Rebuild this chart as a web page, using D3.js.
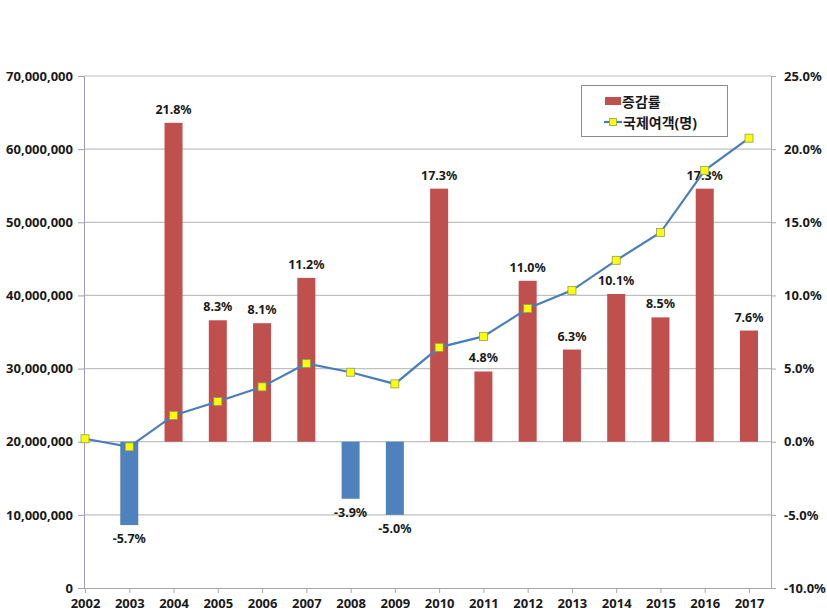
<!DOCTYPE html>
<html><head><meta charset="utf-8">
<script src="https://cdn.jsdelivr.net/npm/d3@7"></script>
<style>
html,body{margin:0;padding:0;background:#fff;}
svg text{font-family:"Noto Sans","Noto Sans CJK KR",sans-serif;font-weight:bold;fill:#1a1a1a;}
</style></head>
<body>
<svg id="c" width="827" height="612"></svg>
<script>
const years = ["2002","2003","2004","2005","2006","2007","2008","2009","2010","2011","2012","2013","2014","2015","2016","2017"];
const growth = [null,-5.7,21.8,8.3,8.1,11.2,-3.9,-5.0,17.3,4.8,11.0,6.3,10.1,8.5,17.3,7.6];
const passengers = [20400000,19300000,23600000,25500000,27500000,30700000,29500000,27900000,32900000,34400000,38200000,40700000,44800000,48600000,57100000,61500000];
const leftTicks = [0,10000000,20000000,30000000,40000000,50000000,60000000,70000000];
const rightTicks = [-10,-5,0,5,10,15,20,25];
const seriesNames = ["증감률","국제여객(명)"];

const svg = d3.select("#c");
const L = 84, R = 771, T = 76, B = 588;
const x = d3.scalePoint().domain(years).range([85, 749]);
const yL = d3.scaleLinear().domain([0, 70000000]).range([B, T]);
const yR = d3.scaleLinear().domain([-10, 25]).range([B, T]);

// gridlines
svg.append("g").selectAll("line").data(leftTicks.slice(1)).join("line")
  .attr("x1", L).attr("x2", R).attr("y1", d => yL(d)).attr("y2", d => yL(d))
  .attr("stroke", "#c0c0c0").attr("stroke-width", 1.2);

// left axis
const gl = svg.append("g").attr("transform", `translate(${L},0)`)
  .call(d3.axisLeft(yL).tickValues(leftTicks).tickFormat(d3.format(",")).tickSize(6).tickPadding(5));
gl.select(".domain").attr("stroke", "#a09cb0");
gl.selectAll(".tick line").attr("stroke", "#a09cb0");
gl.selectAll("text").style("font-size", "13px");

// right axis
const gr = svg.append("g").attr("transform", `translate(${R},0)`)
  .call(d3.axisRight(yR).tickValues(rightTicks).tickFormat(d => d.toFixed(1) + "%").tickSize(5).tickPadding(8));
gr.select(".domain").attr("stroke", "#a8a8a8");
gr.selectAll(".tick line").attr("stroke", "#a8a8a8");
gr.selectAll("text").style("font-size", "13px");

// bottom axis
const gb = svg.append("g").attr("transform", `translate(0,${B})`)
  .call(d3.axisBottom(x).tickSize(5).tickPadding(6));
gb.select(".domain").attr("d", `M${L},0.5H${R}`).attr("stroke", "#a8a8a8");
gb.selectAll(".tick line").attr("stroke", "#a8a8a8");
gb.selectAll("text").style("font-size", "13px");

// bars
const bw = 18;
const barData = years.map((y, i) => ({y, v: growth[i]})).filter(d => d.v !== null);
svg.append("g").selectAll("rect").data(barData).join("rect")
  .attr("x", d => x(d.y) - bw / 2).attr("width", bw)
  .attr("y", d => yR(Math.max(0, d.v))).attr("height", d => Math.abs(yR(d.v) - yR(0)))
  .attr("fill", d => d.v >= 0 ? "#c0504d" : "#4f81bd");

// bar labels
svg.append("g").selectAll("text").data(barData).join("text")
  .attr("x", d => x(d.y)).attr("y", d => d.v >= 0 ? yR(d.v) - 9 : yR(d.v) + 18)
  .attr("text-anchor", "middle").style("font-size", "12.5px")
  .text(d => d.v.toFixed(1) + "%");

// line
const pts = years.map((y, i) => ({y, v: passengers[i]}));
svg.append("path").datum(pts)
  .attr("d", d3.line().x(d => x(d.y)).y(d => yL(d.v)))
  .attr("fill", "none").attr("stroke", "#4a7ebb").attr("stroke-width", 2.2);
svg.append("g").selectAll("rect").data(pts).join("rect")
  .attr("x", d => x(d.y) - 4).attr("y", d => yL(d.v) - 4).attr("width", 8).attr("height", 8)
  .attr("fill", "#ffff00").attr("stroke", "#8aa060").attr("stroke-width", 0.8);

// legend
const lg = svg.append("g");
lg.append("rect").attr("x", 581.5).attr("y", 85.5).attr("width", 146).attr("height", 51)
  .attr("fill", "#fff").attr("stroke", "#8c8c8c").attr("stroke-width", 1);
lg.append("rect").attr("x", 605).attr("y", 97).attr("width", 16).attr("height", 8).attr("fill", "#c0504d");
lg.append("text").attr("x", 622).attr("y", 107).style("font-size", "14px").text(seriesNames[0]);
lg.append("line").attr("x1", 604).attr("x2", 622).attr("y1", 122).attr("y2", 122)
  .attr("stroke", "#4a7ebb").attr("stroke-width", 2.2);
lg.append("rect").attr("x", 609.5).attr("y", 118.5).attr("width", 7).attr("height", 7)
  .attr("fill", "#ffff00").attr("stroke", "#8aa060").attr("stroke-width", 0.8);
lg.append("text").attr("x", 623).attr("y", 128).style("font-size", "14px").text(seriesNames[1]);
</script>
</body></html>
